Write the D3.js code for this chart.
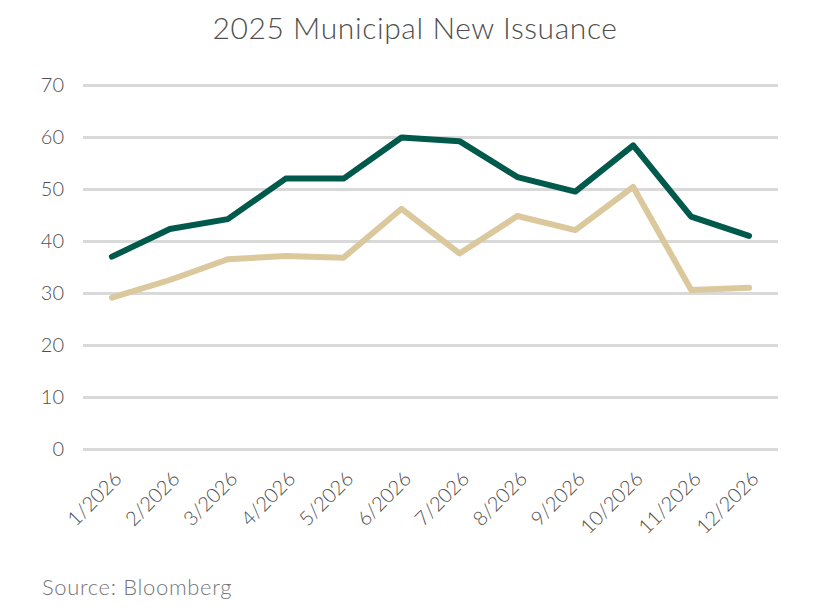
<!DOCTYPE html>
<html>
<head>
<meta charset="utf-8">
<script src="https://cdn.jsdelivr.net/npm/d3@7"></script>
<style>
  body { margin: 0; background: #fff; }
  text { font-family: Lato, "Open Sans", sans-serif; }
</style>
</head>
<body>
<div class="container"></div>
<script>
const w = 827;
const h = 610;
const margin = { top: 85, right: 49, bottom: 161, left: 83 };

const months = ['1/2026', '2/2026', '3/2026', '4/2026', '5/2026', '6/2026',
  '7/2026', '8/2026', '9/2026', '10/2026', '11/2026', '12/2026'];
const seriesGreen = [37, 42.3, 44.2, 52, 52, 59.9, 59.2, 52.3, 49.5, 58.4, 44.7, 41];
const seriesTan = [29.1, 32.5, 36.5, 37.1, 36.8, 46.2, 37.6, 44.8, 42.1, 50.4, 30.6, 31];
const yTicks = [0, 10, 20, 30, 40, 50, 60, 70];

let svg = null;

window.onload = function () {
  setSvg();
  draw();
};

function setSvg() {
  svg = d3
    .select('.container')
    .append('svg')
    .attr('width', w)
    .attr('height', h);
}

function draw() {
  const x = d3.scaleBand()
    .domain(months)
    .range([margin.left, w - margin.right]);
  const y = d3.scaleLinear()
    .domain([0, 70])
    .range([h - margin.bottom, margin.top]);

  // title
  svg.append('text')
    .attr('x', 415)
    .attr('y', 39)
    .attr('text-anchor', 'middle')
    .attr('font-size', 30)
    .attr('font-weight', 300)
    .attr('letter-spacing', 0.6)
    .attr('fill', '#4f4f4f')
    .text('2025 Municipal New Issuance');

  // gridlines + y labels
  const yAxis = svg.append('g')
    .attr('transform', `translate(${margin.left},0)`)
    .call(d3.axisLeft(y).tickValues(yTicks)
      .tickSize(-(w - margin.left - margin.right)).tickPadding(19));
  yAxis.select('.domain').remove();
  yAxis.selectAll('.tick line').attr('stroke', '#d9d9d9').attr('stroke-width', 3);
  yAxis.selectAll('.tick text')
    .attr('font-size', 20)
    .attr('font-weight', 300)
    .attr('fill', '#4f4f4f')
    .style('font-family', 'Lato, "Open Sans", sans-serif');

  // x labels
  const xAxis = svg.append('g')
    .attr('transform', `translate(0,${h - margin.bottom})`)
    .call(d3.axisBottom(x).tickSize(0).tickPadding(0));
  xAxis.select('.domain').remove();
  xAxis.selectAll('.tick text')
    .attr('font-size', 20)
    .attr('font-weight', 300)
    .attr('fill', '#4f4f4f')
    .style('font-family', 'Lato, "Open Sans", sans-serif')
    .attr('text-anchor', 'end')
    .attr('dy', 0)
    .attr('transform', 'translate(11,31) rotate(-45)');

  const line = d3.line()
    .x((d, i) => x(months[i]) + x.bandwidth() / 2)
    .y((d) => y(d));

  svg.append('path')
    .datum(seriesTan)
    .attr('d', line)
    .attr('fill', 'none')
    .attr('stroke', '#dbc89d')
    .attr('stroke-width', 6)
    .attr('stroke-linecap', 'round')
    .attr('stroke-linejoin', 'round');

  svg.append('path')
    .datum(seriesGreen)
    .attr('d', line)
    .attr('fill', 'none')
    .attr('stroke', '#005a4b')
    .attr('stroke-width', 6)
    .attr('stroke-linecap', 'round')
    .attr('stroke-linejoin', 'round');

  // source
  svg.append('text')
    .attr('x', 42)
    .attr('y', 595)
    .attr('font-size', 22)
    .attr('font-weight', 300)
    .attr('letter-spacing', 0.65)
    .attr('fill', '#767676')
    .text('Source: Bloomberg');
}
</script>
</body>
</html>
